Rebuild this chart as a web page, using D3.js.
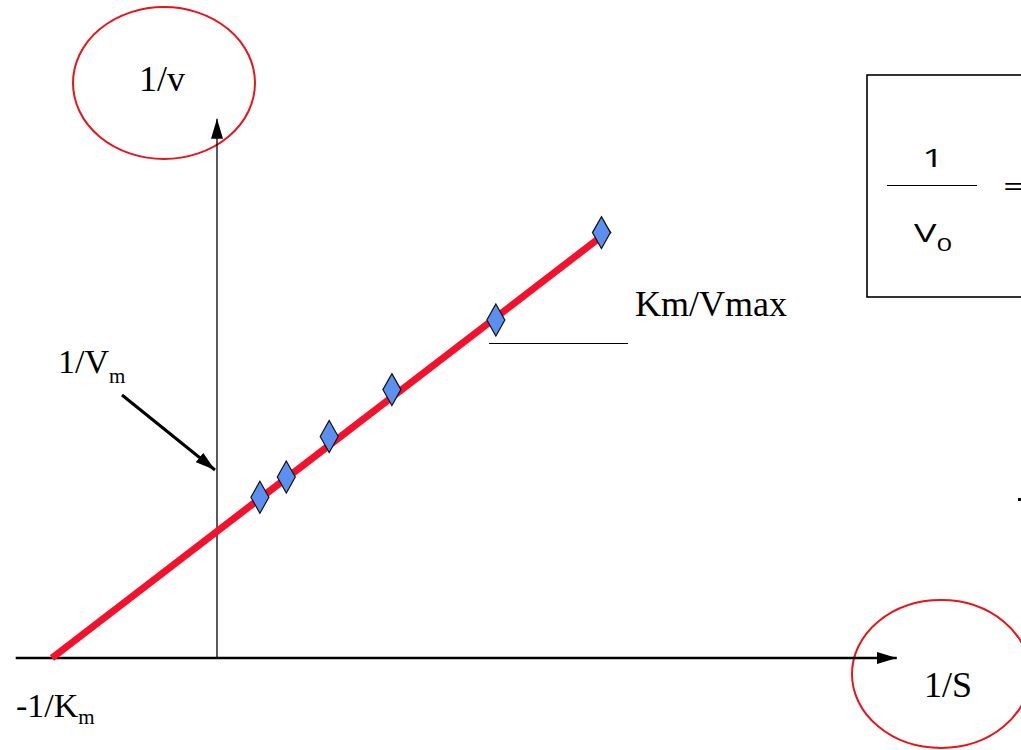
<!DOCTYPE html>
<html>
<head>
<meta charset="utf-8">
<script src="https://cdn.jsdelivr.net/npm/d3@7"></script>
<style>
  body { margin: 0; background: #fff; }
  svg { display: block; }
</style>
</head>
<body>
<svg id="chart"></svg>
<script>
// Lineweaver-Burk plot (1/S vs 1/v), Km = 1, Vm = 1 units
const invS = [0.26, 0.42, 0.68, 1.06, 1.69, 2.33];
const invV = [1.27, 1.43, 1.75, 2.12, 2.67, 3.36];
const fitLine = [[-1, 0], [2.38, 3.38]];
const xExtent = [-1.22, 4.12];
const yExtent = [0, 4.26];

const width = 1021, height = 750;

const svg = d3.select("#chart")
    .attr("width", width)
    .attr("height", height);

const xScale = d3.scaleLinear().domain([-1, 0]).range([52, 217]);
const yScale = d3.scaleLinear().domain([0, 1]).range([658, 531.4]);

const defs = svg.append("defs");
defs.append("marker")
    .attr("id", "arrowHead")
    .attr("viewBox", "0 0 20 12")
    .attr("refX", 20).attr("refY", 6)
    .attr("markerWidth", 20).attr("markerHeight", 12)
    .attr("markerUnits", "userSpaceOnUse")
    .attr("orient", "auto")
    .append("path")
    .attr("d", "M0,0 L20,6 L0,12 Z")
    .attr("fill", "#000");

// red circles around axis titles
svg.append("ellipse")
    .attr("cx", 164).attr("cy", 83).attr("rx", 91).attr("ry", 76)
    .attr("fill", "none").attr("stroke", "#e8141b").attr("stroke-width", 2);
svg.append("ellipse")
    .attr("cx", 941).attr("cy", 674).attr("rx", 89).attr("ry", 74)
    .attr("fill", "none").attr("stroke", "#e8141b").attr("stroke-width", 2);

// x axis
svg.append("line")
    .attr("x1", xScale(xExtent[0])).attr("x2", xScale(xExtent[1]))
    .attr("y1", yScale(0)).attr("y2", yScale(0))
    .attr("stroke", "#000").attr("stroke-width", 2.5)
    .attr("marker-end", "url(#arrowHead)");

// y axis
svg.append("line")
    .attr("x1", xScale(0)).attr("x2", xScale(0))
    .attr("y1", yScale(yExtent[0])).attr("y2", yScale(yExtent[1]))
    .attr("stroke", "#000").attr("stroke-width", 1.3)
    .attr("marker-end", "url(#arrowHead)");

// fitted line
svg.append("line")
    .attr("x1", xScale(fitLine[0][0])).attr("y1", yScale(fitLine[0][1]))
    .attr("x2", xScale(fitLine[1][0])).attr("y2", yScale(fitLine[1][1]))
    .attr("stroke", "#f5102c").attr("stroke-width", 7);

// data points as diamonds
svg.selectAll(".pt")
    .data(invS.map((d, i) => ({ x: d, y: invV[i] })))
    .enter()
    .append("path")
    .attr("class", "pt")
    .attr("transform", d => `translate(${xScale(d.x)},${yScale(d.y)})`)
    .attr("d", "M0,-16 L9,0 L0,16 L-9,0 Z")
    .attr("fill", "#5b8ff0")
    .attr("stroke", "#111")
    .attr("stroke-width", 1.2);

const serif = "'Liberation Serif', 'DejaVu Serif', serif";

// axis titles
svg.append("text")
    .attr("x", 162).attr("y", 91)
    .attr("text-anchor", "middle")
    .style("font-family", serif).style("font-size", "36px")
    .text("1/v");
svg.append("text")
    .attr("x", 948).attr("y", 697)
    .attr("text-anchor", "middle")
    .style("font-family", serif).style("font-size", "36px")
    .text("1/S");

// 1/Vm label and arrow
const vm = svg.append("text")
    .attr("x", 58).attr("y", 373)
    .style("font-family", serif).style("font-size", "34px");
vm.append("tspan").text("1/V");
vm.append("tspan").attr("dy", 10).style("font-size", "21px").text("m");

svg.append("line")
    .attr("x1", 122).attr("y1", 395)
    .attr("x2", 215).attr("y2", 470)
    .attr("stroke", "#000").attr("stroke-width", 3)
    .attr("marker-end", "url(#arrowHead)");

// -1/Km label
const km = svg.append("text")
    .attr("x", 16).attr("y", 717)
    .style("font-family", serif).style("font-size", "34px");
km.append("tspan").text("-1/K");
km.append("tspan").attr("dy", 7).style("font-size", "21px").text("m");

// slope label
svg.append("text")
    .attr("x", 635).attr("y", 316)
    .style("font-family", serif).style("font-size", "36px")
    .text("Km/Vmax");
svg.append("line")
    .attr("x1", 489).attr("x2", 628)
    .attr("y1", 343.5).attr("y2", 343.5)
    .attr("stroke", "#000").attr("stroke-width", 1);

// equation box (cut off at right edge)
svg.append("rect")
    .attr("x", 867).attr("y", 75)
    .attr("width", 200).attr("height", 222)
    .attr("fill", "none").attr("stroke", "#000").attr("stroke-width", 1.6);

// the box text is stretched horizontally in the original
const sans = "'Open Sans', 'Liberation Sans', sans-serif";
svg.append("text")
    .attr("transform", "translate(933,167) scale(1.45,1)")
    .attr("text-anchor", "middle")
    .style("font-family", sans).style("font-size", "26px")
    .text("1");
svg.append("line")
    .attr("x1", 887).attr("x2", 977)
    .attr("y1", 185.5).attr("y2", 185.5)
    .attr("stroke", "#000").attr("stroke-width", 1);
const v0 = svg.append("text")
    .attr("transform", "translate(914,242) scale(1.45,1)")
    .style("font-family", sans).style("font-size", "26px");
v0.append("tspan").text("V");
v0.append("tspan").attr("dy", 9).style("font-size", "19px").text("0");
svg.append("text")
    .attr("transform", "translate(1003,196) scale(1.45,1)")
    .style("font-family", sans).style("font-size", "28px")
    .text("=");

// tiny cut-off mark at the right edge
svg.append("rect")
    .attr("x", 1018).attr("y", 498)
    .attr("width", 3).attr("height", 3)
    .attr("fill", "#000");
</script>
</body>
</html>
